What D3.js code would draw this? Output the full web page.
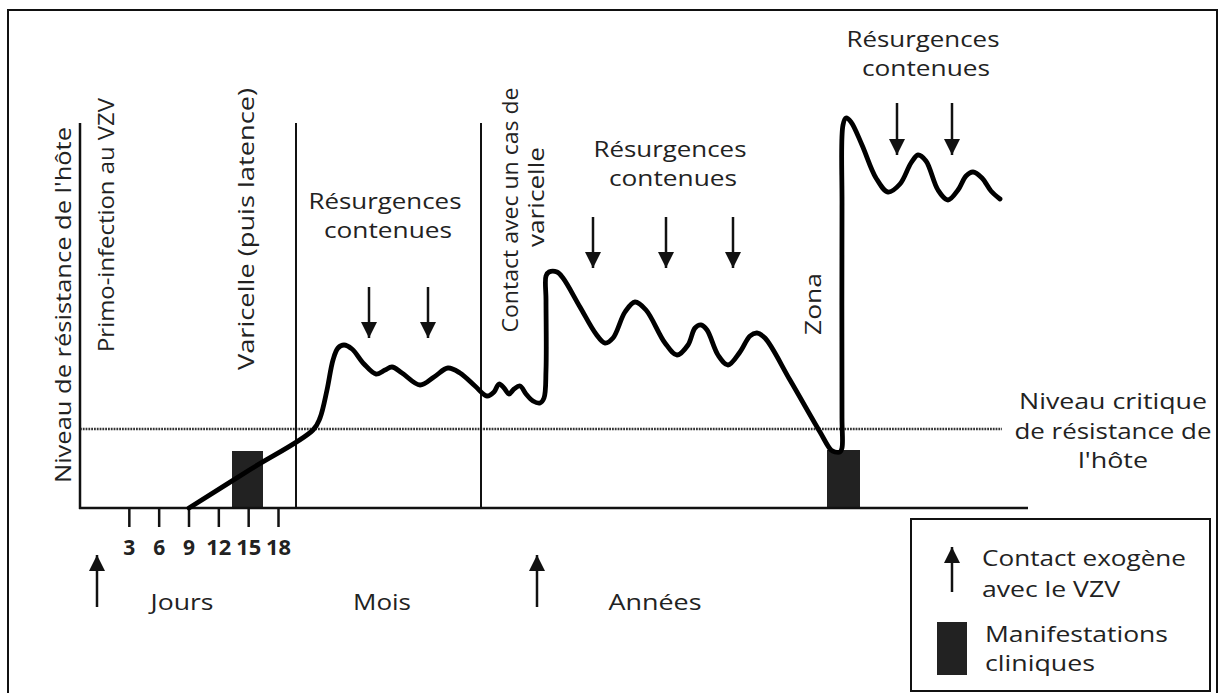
<!DOCTYPE html>
<html><head><meta charset="utf-8">
<script src="https://cdn.jsdelivr.net/npm/d3@7"></script>
<style>
html,body{margin:0;padding:0;background:#fff;}
svg text{font-family:"Open Sans",sans-serif;fill:#222;}
</style></head>
<body>
<svg id="chart" width="1221" height="693"></svg>
<script>
// ---- data (arbitrary time units u, resistance level) ----
const curveT = [109,171,233,240,247,253,258,264,272,284,296,305,312,322,340,354,368,380,395,407,414,419,424,429,434,440,446,453,460,464,466,466,466,469,477,483,500,516,525,533,545,555,566,585,597,608,615,621,627,638,648,660,670,677,685,710,740,751,755,760,762,762,762,763,766,771,782,796,808,820,831,838,846,858,868,878,886,893,902,911,920];
const curveLevel = [0,39,78,90,118,148,160,163,159,144,134,138,141,135,123,131,140,135,122,112,116,124,120,114,119,122,114,107,105,110,138,208,232,236,236,230,201,174,165,170,196,206,198,165,153,163,180,183,178,153,143,156,172,175,170,128,76,58,56,56,60,90,300,383,390,386,363,330,316,324,345,353,347,318,308,318,332,336,330,317,309];
const dayTicks = [3,6,9,12,15,18];
const dayRange = [0,18];
const criticalLevel = 79;
const separatorsT = [216,401];
const barStart = [152,747];
const barEnd = [183,780];
const barLevel = [57,58];
const downArrowT = [289,348,513,586,653,817,872];
const downArrowTop = [221,221,291,291,291,405,405];
const downArrowTip = [170,170,240,240,240,353,353];
const upArrowT = [17,457];
const periodLabels = ["Jours","Mois","Années"];
const periodT = [102,302,575];
const resurgenceT = [305,590,843];
const resurgenceLevel = [308,360,470];

const svg = d3.select("#chart");
const x = d3.scaleLinear().domain([0,948]).range([80,1028]);
const y = d3.scaleLinear().domain([0,400]).range([508,108]);
const dayX = d3.scaleLinear().domain(dayRange).range([x(19),x(198)]);
const FS = 22;

function label(px,py,txt,len,opt){
  opt = opt||{};
  const t = svg.append("text")
    .attr("transform",`translate(${px},${py})${opt.rot?" rotate(-90)":""}`)
    .attr("text-anchor",opt.anchor||"middle").attr("dominant-baseline","central")
    .attr("font-size",opt.size||FS).text(txt);
  if(len) t.attr("textLength",len).attr("lengthAdjust","spacingAndGlyphs");
  if(opt.weight) t.attr("font-weight",opt.weight);
  return t;
}

// outer frame
svg.append("rect").attr("x",8).attr("y",10).attr("width",1209).attr("height",700)
  .attr("fill","none").attr("stroke","#111").attr("stroke-width",2);

const defs = svg.append("defs");
defs.append("marker").attr("id","ah").attr("viewBox","0 0 10 10").attr("refX",10).attr("refY",5)
  .attr("markerWidth",16).attr("markerHeight",16).attr("markerUnits","userSpaceOnUse").attr("orient","auto")
  .append("path").attr("d","M0,0L10,5L0,10Z").attr("fill","#111");

// critical dotted line
svg.append("line").attr("x1",x(0)).attr("x2",x(922)).attr("y1",y(criticalLevel)).attr("y2",y(criticalLevel))
  .attr("stroke","#333").attr("stroke-width",2.6).attr("stroke-dasharray","1.8,1");

// y axis line
svg.append("line").attr("x1",x(0)).attr("x2",x(0)).attr("y1",y(0)+1).attr("y2",y(385))
  .attr("stroke","#111").attr("stroke-width",2.5);
svg.selectAll(".sep").data(separatorsT).join("line").attr("class","sep")
  .attr("x1",d=>x(d)).attr("x2",d=>x(d)).attr("y1",y(0)).attr("y2",y(385))
  .attr("stroke","#111").attr("stroke-width",2);

// bars
svg.selectAll(".bar").data(barStart).join("rect").attr("class","bar")
  .attr("x",d=>x(d)).attr("width",(d,i)=>x(barEnd[i])-x(d))
  .attr("y",(d,i)=>y(barLevel[i])).attr("height",(d,i)=>y(0)-y(barLevel[i]))
  .attr("fill","#222");

// baseline
svg.append("line").attr("x1",x(0)-1).attr("x2",x(948)).attr("y1",y(0)).attr("y2",y(0))
  .attr("stroke","#111").attr("stroke-width",2.5);

// day axis
const ax = svg.append("g").attr("transform",`translate(0,${y(0)})`)
  .call(d3.axisBottom(dayX).tickValues(dayTicks).tickSize(19).tickPadding(5));
ax.select(".domain").remove();
ax.selectAll(".tick line").attr("stroke","#111").attr("stroke-width",2.5);
ax.selectAll(".tick text")
  .attr("font-family","Open Sans").attr("font-size",21).attr("font-weight",700).attr("fill","#222")
  .attr("dy",null).attr("y",39).attr("dominant-baseline","central")
  .attr("textLength",d=>d>=10?25:12).attr("lengthAdjust","spacingAndGlyphs");

// curve
const pts = curveT.map((t,i)=>[x(t),y(curveLevel[i])]);
svg.append("path").attr("d",d3.line().curve(d3.curveCatmullRom.alpha(0.5))(pts))
  .attr("fill","none").attr("stroke","#000").attr("stroke-width",4.8)
  .attr("stroke-linejoin","round").attr("stroke-linecap","round");

// down arrows
svg.selectAll(".darr").data(downArrowT).join("line").attr("class","darr")
  .attr("x1",d=>x(d)).attr("x2",d=>x(d)).attr("y1",(d,i)=>y(downArrowTop[i])).attr("y2",(d,i)=>y(downArrowTip[i]))
  .attr("stroke","#111").attr("stroke-width",2.5).attr("marker-end","url(#ah)");
svg.selectAll(".uarr").data(upArrowT).join("line").attr("class","uarr")
  .attr("x1",d=>x(d)).attr("x2",d=>x(d)).attr("y1",607).attr("y2",555)
  .attr("stroke","#111").attr("stroke-width",2.5).attr("marker-end","url(#ah)");

// period labels
const periodLen = [63,58,93];
periodLabels.forEach((p,i)=>label(x(periodT[i]),601,p,periodLen[i]));

// resurgence labels
resurgenceT.forEach((t,i)=>{
  label(x(t),y(resurgenceLevel[i]),"Résurgences",153);
  label(x(t)+3,y(resurgenceLevel[i])+29,"contenues",128);
});

// rotated labels
label(62,305,"Niveau de résistance de l'hôte",356,{rot:true});
label(105,225,"Primo-infection au VZV",254,{rot:true});
label(245,229,"Varicelle (puis latence)",282,{rot:true});
label(509,210,"Contact avec un cas de",245,{rot:true});
label(535,197,"varicelle",100,{rot:true});
label(812,304,"Zona",62,{rot:true});

// critical label
label(1113,400,"Niveau critique",188);
label(1113,430,"de résistance de",197);
label(1113,459,"l'hôte",70);

// legend
svg.append("rect").attr("x",911).attr("y",519).attr("width",299).attr("height",172)
  .attr("fill","none").attr("stroke","#111").attr("stroke-width",2);
svg.append("line").attr("x1",952).attr("x2",952).attr("y1",592).attr("y2",547)
  .attr("stroke","#111").attr("stroke-width",2.5).attr("marker-end","url(#ah)");
svg.append("rect").attr("x",937).attr("y",622).attr("width",30).attr("height",53).attr("fill","#222");
label(982,557,"Contact exogène",204,{anchor:"start"});
label(982,588,"avec le VZV",138,{anchor:"start"});
label(985,633,"Manifestations",183,{anchor:"start"});
label(985,662,"cliniques",110,{anchor:"start"});
</script>
</body></html>
